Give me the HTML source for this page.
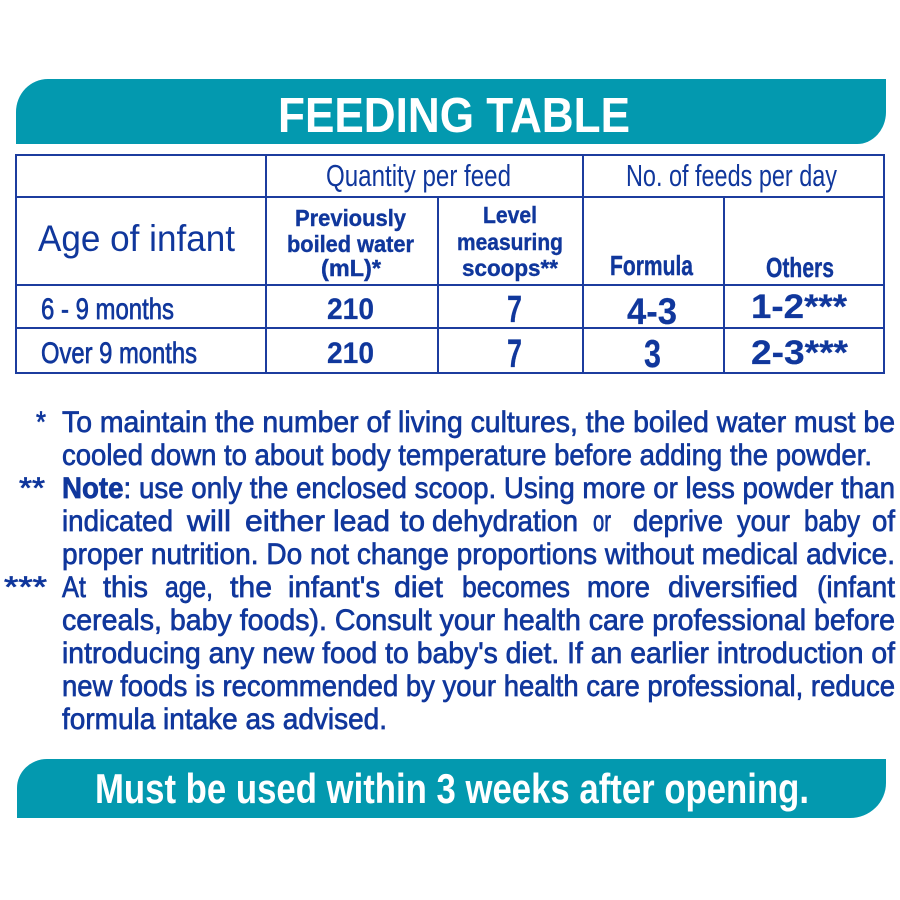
<!DOCTYPE html>
<html>
<head>
<meta charset="utf-8">
<style>
  html,body{margin:0;padding:0;background:#fff;}
  body{width:900px;height:900px;overflow:hidden;}
  svg{display:block;}
  .b{fill:#10379c;font-family:"Liberation Sans",sans-serif;}
  .w{fill:#ffffff;font-family:"Liberation Sans",sans-serif;font-weight:bold;}
  .fn{font-size:30px;stroke:#10379c;stroke-width:0.7px;}
  .num{font-weight:bold;stroke:#10379c;stroke-width:0.2px;}
  .bold{font-weight:bold;stroke:#10379c;stroke-width:0.4px;}
</style>
</head>
<body>
<svg width="900" height="900" viewBox="0 0 900 900" xmlns="http://www.w3.org/2000/svg">
  <!-- Top banner -->
  <path d="M16,144 V112 A32,33 0 0 1 48,79 H886 V112 A29,32 0 0 1 857,144 Z" fill="#0399AF"/>
  <text class="w" x="278" y="132" font-size="49" textLength="352" lengthAdjust="spacingAndGlyphs">FEEDING TABLE</text>

  <!-- Table lines -->
  <g stroke="#1c3c9e" stroke-width="2" fill="none">
    <rect x="16" y="155" width="868" height="218"/>
    <line x1="16" y1="197" x2="884" y2="197"/>
    <line x1="16" y1="285" x2="884" y2="285"/>
    <line x1="16" y1="328" x2="884" y2="328"/>
    <line x1="266" y1="155" x2="266" y2="373"/>
    <line x1="583" y1="155" x2="583" y2="373"/>
    <line x1="438" y1="197" x2="438" y2="373"/>
    <line x1="724" y1="197" x2="724" y2="373"/>
  </g>

  <!-- Header texts -->
  <text class="b" x="326" y="186" font-size="31" textLength="185" lengthAdjust="spacingAndGlyphs">Quantity per feed</text>
  <text class="b" x="626" y="186" font-size="31" textLength="211" lengthAdjust="spacingAndGlyphs">No. of feeds per day</text>
  <text class="b" x="38" y="251" font-size="37" textLength="197" lengthAdjust="spacingAndGlyphs">Age of infant</text>

  <text class="b bold" x="295" y="226" font-size="23" textLength="111" lengthAdjust="spacingAndGlyphs">Previously</text>
  <text class="b bold" x="287" y="252" font-size="23" textLength="127" lengthAdjust="spacingAndGlyphs">boiled water</text>
  <text class="b bold" x="321" y="276" font-size="23" textLength="60" lengthAdjust="spacingAndGlyphs">(mL)*</text>

  <text class="b bold" x="483" y="223" font-size="23" textLength="54" lengthAdjust="spacingAndGlyphs">Level</text>
  <text class="b bold" x="457" y="250" font-size="23" textLength="106" lengthAdjust="spacingAndGlyphs">measuring</text>
  <text class="b bold" x="462" y="276" font-size="23" textLength="96" lengthAdjust="spacingAndGlyphs">scoops**</text>

  <text class="b bold" x="610" y="275" font-size="28" textLength="83" lengthAdjust="spacingAndGlyphs">Formula</text>
  <text class="b bold" x="766" y="277" font-size="28" textLength="68" lengthAdjust="spacingAndGlyphs">Others</text>

  <!-- Row 1 -->
  <text class="b fn" x="41" y="319" textLength="133" lengthAdjust="spacingAndGlyphs">6 - 9 months</text>
  <text class="b num" x="327" y="319" font-size="30" textLength="47" lengthAdjust="spacingAndGlyphs">210</text>
  <text class="b num" x="507" y="322" font-size="38" textLength="15" lengthAdjust="spacingAndGlyphs">7</text>
  <text class="b num" x="627" y="324" font-size="37" textLength="50" lengthAdjust="spacingAndGlyphs">4-3</text>
  <text class="b num" x="751" y="318" font-size="34" textLength="96" lengthAdjust="spacingAndGlyphs">1-2***</text>

  <!-- Row 2 -->
  <text class="b fn" x="41" y="363" textLength="156" lengthAdjust="spacingAndGlyphs">Over 9 months</text>
  <text class="b num" x="327" y="363" font-size="30" textLength="47" lengthAdjust="spacingAndGlyphs">210</text>
  <text class="b num" x="507" y="367" font-size="40" textLength="15" lengthAdjust="spacingAndGlyphs">7</text>
  <text class="b num" x="644" y="367" font-size="39" textLength="17" lengthAdjust="spacingAndGlyphs">3</text>
  <text class="b num" x="751" y="364" font-size="34" textLength="97" lengthAdjust="spacingAndGlyphs">2-3***</text>

  <!-- Footnotes -->
  <text class="b fn" x="36" y="432" textLength="10" lengthAdjust="spacingAndGlyphs">*</text>
  <text class="b fn" x="62" y="432" textLength="833" lengthAdjust="spacingAndGlyphs">To maintain the number of living cultures, the boiled water must be</text>
  <text class="b fn" x="62" y="465" textLength="810" lengthAdjust="spacingAndGlyphs">cooled down to about body temperature before adding the powder.</text>

  <text class="b fn" x="19" y="498" textLength="26" lengthAdjust="spacingAndGlyphs">**</text>
  <text class="b fn" x="62" y="498" textLength="833" lengthAdjust="spacingAndGlyphs"><tspan font-weight="bold">Note</tspan>: use only the enclosed scoop. Using more or less powder than</text>

  <!-- justified line 4 -->
  <g>
    <text class="b fn" x="62" y="531" textLength="111" lengthAdjust="spacingAndGlyphs">indicated</text>
    <text class="b fn" x="187" y="531" textLength="44" lengthAdjust="spacingAndGlyphs">will</text>
    <text class="b fn" x="245" y="531" textLength="80" lengthAdjust="spacingAndGlyphs">either</text>
    <text class="b fn" x="333" y="531" textLength="57" lengthAdjust="spacingAndGlyphs">lead</text>
    <text class="b fn" x="400" y="531" textLength="25" lengthAdjust="spacingAndGlyphs">to</text>
    <text class="b fn" x="432" y="531" textLength="146" lengthAdjust="spacingAndGlyphs">dehydration</text>
    <text class="b fn" x="593" y="531" textLength="18" lengthAdjust="spacingAndGlyphs">or</text>
    <text class="b fn" x="633" y="531" textLength="90" lengthAdjust="spacingAndGlyphs">deprive</text>
    <text class="b fn" x="737" y="531" textLength="53" lengthAdjust="spacingAndGlyphs">your</text>
    <text class="b fn" x="804" y="531" textLength="56" lengthAdjust="spacingAndGlyphs">baby</text>
    <text class="b fn" x="872" y="531" textLength="23" lengthAdjust="spacingAndGlyphs">of</text>
  </g>

  <text class="b fn" x="62" y="564" textLength="833" lengthAdjust="spacingAndGlyphs">proper nutrition. Do not change proportions without medical advice.</text>

  <text class="b fn" x="4" y="597" textLength="43" lengthAdjust="spacingAndGlyphs">***</text>
  <!-- justified line 6 -->
  <g>
    <text class="b fn" x="62" y="597" textLength="24" lengthAdjust="spacingAndGlyphs">At</text>
    <text class="b fn" x="103" y="597" textLength="45" lengthAdjust="spacingAndGlyphs">this</text>
    <text class="b fn" x="165" y="597" textLength="48" lengthAdjust="spacingAndGlyphs">age,</text>
    <text class="b fn" x="230" y="597" textLength="42" lengthAdjust="spacingAndGlyphs">the</text>
    <text class="b fn" x="288" y="597" textLength="92" lengthAdjust="spacingAndGlyphs">infant's</text>
    <text class="b fn" x="394" y="597" textLength="49" lengthAdjust="spacingAndGlyphs">diet</text>
    <text class="b fn" x="462" y="597" textLength="108" lengthAdjust="spacingAndGlyphs">becomes</text>
    <text class="b fn" x="587" y="597" textLength="63" lengthAdjust="spacingAndGlyphs">more</text>
    <text class="b fn" x="668" y="597" textLength="130" lengthAdjust="spacingAndGlyphs">diversified</text>
    <text class="b fn" x="817" y="597" textLength="78" lengthAdjust="spacingAndGlyphs">(infant</text>
  </g>

  <text class="b fn" x="62" y="630" textLength="833" lengthAdjust="spacingAndGlyphs">cereals, baby foods). Consult your health care professional before</text>
  <text class="b fn" x="62" y="663" textLength="833" lengthAdjust="spacingAndGlyphs">introducing any new food to baby's diet. If an earlier introduction of</text>
  <text class="b fn" x="62" y="696" textLength="833" lengthAdjust="spacingAndGlyphs">new foods is recommended by your health care professional, reduce</text>
  <text class="b fn" x="62" y="729" textLength="325" lengthAdjust="spacingAndGlyphs">formula intake as advised.</text>

  <!-- Bottom banner -->
  <path d="M17,818 V788 A30,29 0 0 1 47,759 H886 V783 A36,35 0 0 1 850,818 Z" fill="#0399AF"/>
  <text class="w" x="95" y="803" font-size="42" textLength="714" lengthAdjust="spacingAndGlyphs">Must be used within 3 weeks after opening.</text>
</svg>
</body>
</html>
